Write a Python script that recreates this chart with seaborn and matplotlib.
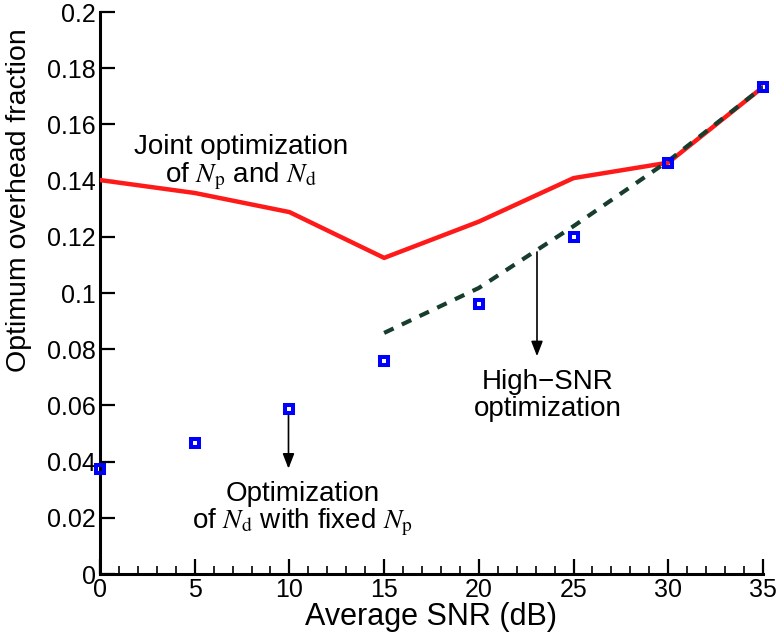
import matplotlib
matplotlib.use("Agg")
import matplotlib.pyplot as plt
import seaborn as sns
import pandas as pd
from matplotlib.ticker import MultipleLocator, FuncFormatter

# Average SNR grid (dB)
snr = [0, 5, 10, 15, 20, 25, 30, 35]
# Joint optimization of Np and Nd
joint = [0.1402, 0.1356, 0.1288, 0.1125, 0.1254, 0.1409, 0.1464, 0.1733]
# Optimization of Nd with fixed Np
fixed_np = [0.0372, 0.0466, 0.0587, 0.0758, 0.0961, 0.1199, 0.1463, 0.1733]
# High-SNR approximation
high_snr_x = [15, 20, 25, 30, 35]
high_snr = [0.0858, 0.1018, 0.1238, 0.1470, 0.1733]

sns.set_style("ticks")
plt.rcParams["font.family"] = ["Liberation Sans", "DejaVu Sans"]
plt.rcParams["mathtext.fontset"] = "stix"
plt.rcParams["text.color"] = "black"
plt.rcParams["axes.labelcolor"] = "black"

fig = plt.figure(figsize=(7.76, 6.43), dpi=100)
ax = fig.add_axes([0.1289, 0.1073, 0.8543, 0.874])

df_joint = pd.DataFrame({"snr": snr, "val": joint})
df_fixed = pd.DataFrame({"snr": snr, "val": fixed_np})
df_high = pd.DataFrame({"snr": high_snr_x, "val": high_snr})

sns.lineplot(data=df_joint, x="snr", y="val", ax=ax, color="#ff1a1a",
             linewidth=3.2, zorder=3)
sns.lineplot(data=df_high, x="snr", y="val", ax=ax, color="#173d2c",
             linewidth=3, linestyle=(0, (2.5, 2.2)), zorder=3)
ax.plot(df_fixed["snr"], df_fixed["val"], linestyle="none", marker="s",
        markersize=6.3, markerfacecolor="none", markeredgecolor="#0000ff",
        markeredgewidth=2.9, zorder=4, clip_on=False)

ax.set_xlim(0, 35)
ax.set_ylim(0, 0.2)
ax.xaxis.set_major_locator(MultipleLocator(5))
ax.xaxis.set_minor_locator(MultipleLocator(1))
ax.yaxis.set_major_locator(MultipleLocator(0.02))
ax.yaxis.set_major_formatter(FuncFormatter(
    lambda v, p: f"{v:.2f}".rstrip("0").rstrip(".") if abs(v) > 1e-9 else "0"))

ax.tick_params(axis="both", which="major", direction="in", length=11,
               width=1.6, labelsize=18, pad=3, colors="black")
ax.tick_params(axis="x", which="minor", direction="in", length=6,
               width=1.4)
for side in ("top", "right"):
    ax.spines[side].set_visible(False)
for side in ("left", "bottom"):
    ax.spines[side].set_linewidth(2.2)
    ax.spines[side].set_color("black")

ax.set_xlabel("Average SNR (dB)", fontsize=22, labelpad=0)
ax.set_ylabel("Optimum overhead fraction", fontsize=20.5)
ax.yaxis.set_label_coords(-0.103, 0.665)

ax.text(7.45, 0.1462, "Joint optimization\nof $N_{\\rm p}$ and $N_{\\rm d}$",
        ha="center", va="center", fontsize=20, linespacing=1.0)
ax.text(23.65, 0.0637, "High\u2212SNR\noptimization",
        ha="center", va="center", fontsize=20, linespacing=1.05)
ax.text(10.7, 0.0230, "Optimization\nof $N_{\\rm d}$ with fixed $N_{\\rm p}$",
        ha="center", va="center", fontsize=20, linespacing=1.0)

arrow = dict(arrowstyle="-|>,head_width=0.35,head_length=0.9", color="black",
             linewidth=1.2, shrinkA=0, shrinkB=0)
ax.annotate("", xy=(23.07, 0.0775), xytext=(23.07, 0.1146), arrowprops=arrow)
ax.annotate("", xy=(9.95, 0.0375), xytext=(9.95, 0.0575), arrowprops=arrow)

fig.savefig("out.png", dpi=100)
